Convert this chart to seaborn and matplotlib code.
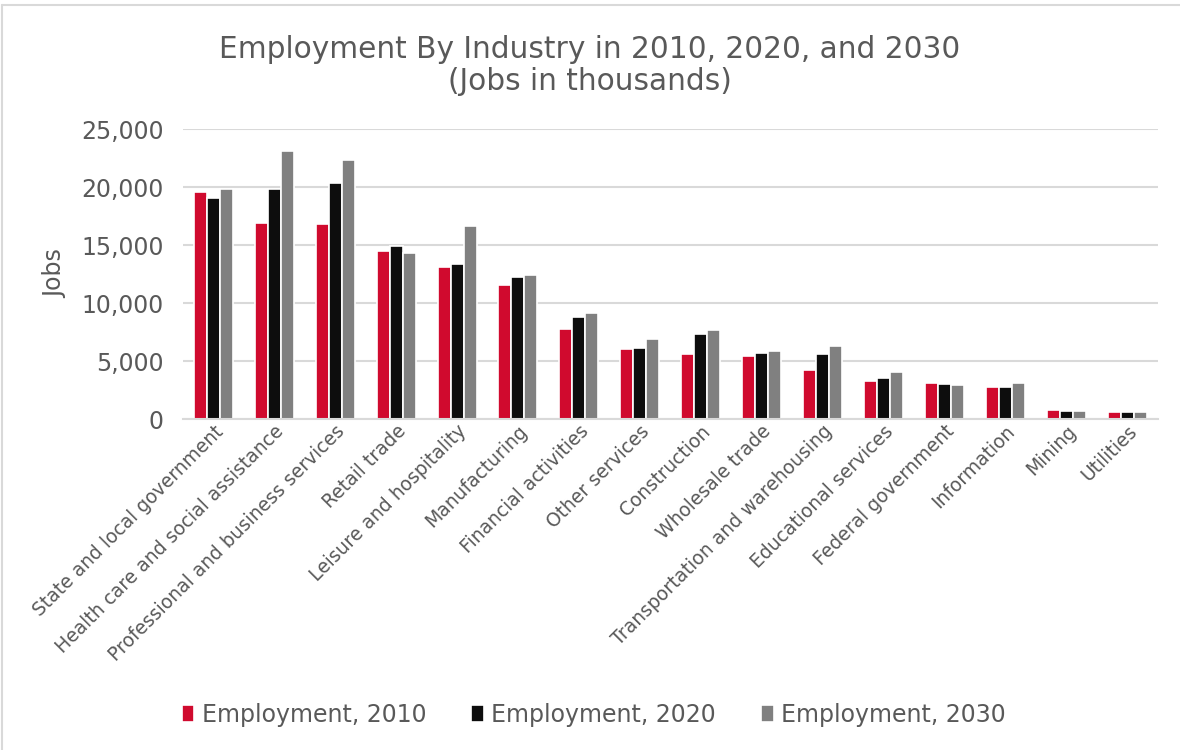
import matplotlib
matplotlib.use("Agg")
import matplotlib.pyplot as plt
import seaborn as sns
import pandas as pd
from matplotlib.lines import Line2D
from matplotlib.ticker import FuncFormatter

industries = ["State and local government", "Health care and social assistance",
              "Professional and business services", "Retail trade",
              "Leisure and hospitality", "Manufacturing", "Financial activities",
              "Other services", "Construction", "Wholesale trade",
              "Transportation and warehousing", "Educational services",
              "Federal government", "Information", "Mining", "Utilities"]
emp_2010 = [19540, 16870, 16810, 14510, 13100, 11580, 7760, 6060,
            5600, 5460, 4250, 3250, 3080, 2790, 750, 630]
emp_2020 = [19030, 19830, 20320, 14910, 13360, 12240, 8790, 6120,
            7360, 5720, 5630, 3530, 3020, 2760, 660, 630]
emp_2030 = [19830, 23130, 22300, 14310, 16640, 12390, 9110, 6870,
            7640, 5860, 6260, 4080, 2930, 3080, 720, 575]
series_names = ["Employment, 2010", "Employment, 2020", "Employment, 2030"]
colors = ["#D00A2E", "#0D0D0D", "#808080"]

rows = []
for name, vals in zip(series_names, [emp_2010, emp_2020, emp_2030]):
    for ind, v in zip(industries, vals):
        rows.append({"Industry": ind, "Series": name, "Jobs": v})
df = pd.DataFrame(rows)

sns.set_theme(style="white")
plt.rcParams['font.family'] = ['DejaVu Sans']
txt = "#595959"

fig = plt.figure(figsize=(11.8, 7.5), dpi=100)
ax = fig.add_axes([0.155, 0.4413, 0.826, 0.3867])
sns.barplot(data=df, x="Industry", y="Jobs", hue="Series", order=industries,
            hue_order=series_names, palette=colors, width=0.64, ax=ax,
            edgecolor="white", linewidth=1.2, saturation=1, errorbar=None)

ax.set_ylim(0, 25000)
ax.set_yticks([0, 5000, 10000, 15000, 20000, 25000])
ax.yaxis.set_major_formatter(FuncFormatter(lambda v, p: f"{int(v):,}"))
ax.grid(axis="y", color="#D9D9D9", linewidth=1.5)
ax.set_axisbelow(True)
for s in ["top", "right", "left"]:
    ax.spines[s].set_visible(False)
ax.spines["bottom"].set_color("#D9D9D9")
ax.spines["bottom"].set_linewidth(1.5)
ax.tick_params(axis="y", labelsize=17, labelcolor=txt, length=0, pad=14)
ax.tick_params(axis="x", labelsize=13.5, labelcolor=txt, length=0, pad=2)
plt.setp(ax.get_xticklabels(), rotation=45, ha="right", rotation_mode="anchor")
ax.set_xlabel("")
ax.set_ylabel("Jobs", fontsize=17, color=txt, labelpad=10)

fig.text(0.5, 0.913, "Employment By Industry in 2010, 2020, and 2030\n(Jobs in thousands)",
         ha="center", va="center", fontsize=21.3, color=txt, linespacing=1.12)

ax.legend_.remove()
handles, labels = ax.get_legend_handles_labels()
fig.legend(handles, labels, loc="center", bbox_to_anchor=(0.503, 0.047), ncol=3,
           frameon=False, fontsize=17, labelcolor=txt, handlelength=0.55,
           handleheight=0.7, handletextpad=0.3, columnspacing=1.9)

fig.add_artist(Line2D([0.002, 1.0], [0.993, 0.993], color="#D9D9D9", lw=1.5))
fig.add_artist(Line2D([0.002, 0.002], [0.0, 0.993], color="#D9D9D9", lw=1.5))

fig.savefig("out.png", dpi=100, facecolor="white")
